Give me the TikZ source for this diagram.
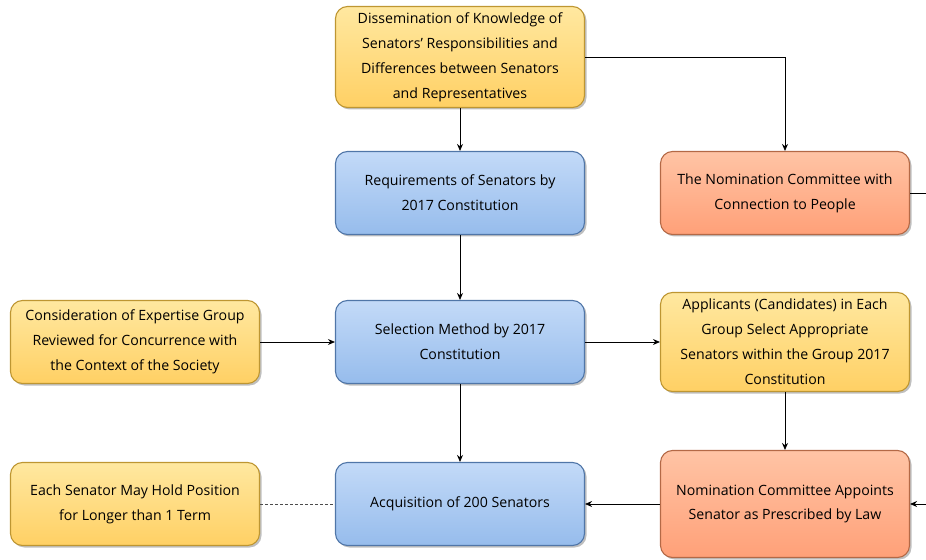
\documentclass[tikz,border=0pt]{standalone}
\usepackage{fontspec}
\setmainfont{Open Sans}
\usetikzlibrary{arrows.meta,shadows}

\definecolor{ylwtop}{RGB}{255,232,160}
\definecolor{ylwbot}{RGB}{255,208,100}
\definecolor{ylwline}{RGB}{190,150,50}
\definecolor{blutop}{RGB}{195,218,248}
\definecolor{blubot}{RGB}{150,188,236}
\definecolor{bluline}{RGB}{80,118,168}
\definecolor{orgtop}{RGB}{255,196,165}
\definecolor{orgbot}{RGB}{255,160,120}
\definecolor{orgline}{RGB}{180,105,70}

\tikzset{
  box/.style={draw, line width=1.1bp, rounded corners=12bp, align=center,
    minimum width=249bp, minimum height=83bp, inner sep=2bp,
    font=\fontsize{14.2}{25}\selectfont,
    drop shadow={shadow xshift=2bp, shadow yshift=-2bp, opacity=0.5}},
  yellowbox/.style={box, draw=ylwline, top color=ylwtop, bottom color=ylwbot},
  bluebox/.style={box, draw=bluline, top color=blutop, bottom color=blubot},
  orangebox/.style={box, draw=orgline, top color=orgtop, bottom color=orgbot}
}

\begin{document}
\begin{tikzpicture}[x=1bp,y=-1bp,>={Stealth[length=7bp,width=6bp]},line width=0.8bp]
    \useasboundingbox (0,0) rectangle (926,560);
    % top row
    \node[yellowbox, minimum height=101bp] (dissem) at (460,57)
      {Dissemination of Knowledge of\\ Senators’ Responsibilities and\\
       Differences between Senators\\ and Representatives};
    \node[bluebox] (require) at (460,193)
      {Requirements of Senators by\\ 2017 Constitution};
    \node[orangebox] (nomcom) at (785,193)
      {The Nomination Committee with\\ Connection to People};
    % middle row
    \node[yellowbox] (consider) at (135,342)
      {Consideration of Expertise Group\\ Reviewed for Concurrence with\\
       the Context of the Society};
    \node[bluebox] (select) at (460,342)
      {Selection Method by 2017\\ Constitution};
    \node[yellowbox, minimum height=99bp] (applic) at (785,342)
      {Applicants (Candidates) in Each\\ Group Select Appropriate\\
       Senators within the Group 2017\\ Constitution};
    % bottom row
    \node[yellowbox] (eachsen) at (135,504)
      {Each Senator May Hold Position\\ for Longer than 1 Term};
    \node[bluebox] (acquire) at (460,504)
      {Acquisition of 200 Senators};
    \node[orangebox, minimum height=107bp] (appoint) at (785,504)
      {Nomination Committee Appoints\\ Senator as Prescribed by Law};
    % links leaving the picture
    \coordinate (outA) at (926,193);
    \coordinate (outB) at (926,504);
    % connectors
    \draw[->] (dissem) -- (require);
    \draw[->] (dissem.east) -| (nomcom.north);
    \draw[->] (require) -- (select);
    \draw[->] (consider) -- (select);
    \draw[->] (select) -- (applic);
    \draw[->] (select) -- (acquire);
    \draw[->] (applic) -- (appoint);
    \draw[->] (appoint) -- (acquire);
    \draw[dash pattern=on 3bp off 2bp, black!70] (eachsen) -- (acquire);
    \draw (nomcom.east) -- (outA);
    \draw[->] (outB) -- (appoint.east);
\end{tikzpicture}
\end{document}
